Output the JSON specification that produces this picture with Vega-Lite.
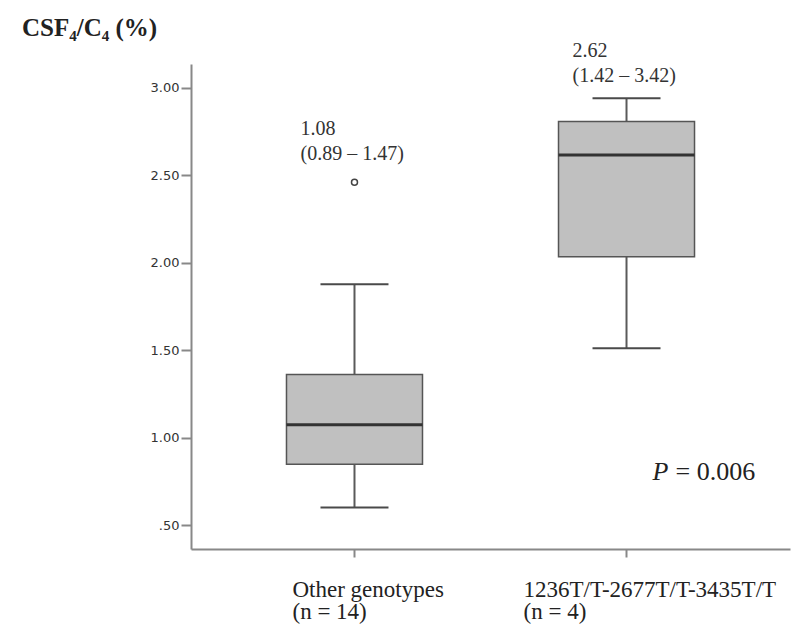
{
  "$schema": "https://vega.github.io/schema/vega-lite/v6.json",
  "width": 599,
  "height": 485,
  "autosize": "none",
  "padding": {"left": 191, "top": 64, "right": 3, "bottom": 75},
  "background": "white",
  "title": {"text": "CSF₄/C₄ (%)", "anchor": "start", "frame": "group", "dx": -169, "dy": 42, "font": "Liberation Serif", "fontSize": 25, "fontWeight": "bold", "color": "#222", "baseline": "alphabetic", "offset": 22},
  "datasets": {
    "boxes": [
      {"group": "Other genotypes", "lower": 0.60, "q1": 0.847, "median": 1.073, "q3": 1.361, "upper": 1.876},
      {"group": "1236T/T-2677T/T-3435T/T", "lower": 1.51, "q1": 2.034, "median": 2.615, "q3": 2.806, "upper": 2.939}
    ],
    "outliers": [
      {"group": "Other genotypes", "value": 2.459}
    ],
    "notes": [
      {"group": "Other genotypes", "text": "1.08\n(0.89 – 1.47)", "y": 2.73},
      {"group": "1236T/T-2677T/T-3435T/T", "text": "2.62\n(1.42 – 3.42)", "y": 3.177}
    ],
    "pvalue": [
      {"group": "1236T/T-2677T/T-3435T/T", "p": "P", "rest": "= 0.006", "y": 0.757}
    ]
  },
  "encoding": {
    "x": {
      "field": "group", "type": "nominal",
      "scale": {"type": "band", "domain": ["Other genotypes", "1236T/T-2677T/T-3435T/T"], "paddingInner": 0, "paddingOuter": 0.101},
      "axis": {
        "title": null,
        "labelAngle": 0,
        "labelExpr": "datum.value == 'Other genotypes' ? ['Other genotypes', '(n = 14)'] : ['1236T/T-2677T/T-3435T/T', '(n = 4)']",
        "labelAlign": "left",
        "labelOffset": {"condition": {"test": "datum.value == 'Other genotypes'", "value": -62}, "value": -103},
        "labelBaseline": "alphabetic",
        "labelPadding": 39,
        "labelLineHeight": 22,
        "labelFont": "Liberation Serif",
        "labelFontSize": 23,
        "labelColor": "#222",
        "labelLimit": 0,
        "tickSize": 8,
        "labelOverlap": false,
        "labelBound": false,
        "labelFlush": false
      }
    }
  },
  "layer": [
    {
      "data": {"name": "boxes"},
      "mark": {"type": "rule", "color": "#5a5a5a", "strokeWidth": 2},
      "encoding": {
        "y": {"field": "lower", "type": "quantitative", "title": null,
          "scale": {"domain": [0.363, 3.135], "nice": false, "zero": false},
          "axis": {
            "values": [0.5, 1, 1.5, 2, 2.5, 3],
            "labelExpr": "datum.value < 1 ? replace(format(datum.value, '.2f'), '0.', '.') : format(datum.value, '.2f')",
            "labelFont": "DejaVu Sans",
            "labelFontSize": 13,
            "labelColor": "#333",
            "tickSize": 10,
            "labelPadding": 2
          }
        },
        "y2": {"field": "q1"}
      }
    },
    {
      "data": {"name": "boxes"},
      "mark": {"type": "rule", "color": "#5a5a5a", "strokeWidth": 2},
      "encoding": {
        "y": {"field": "q3", "type": "quantitative", "title": null},
        "y2": {"field": "upper"}
      }
    },
    {
      "data": {"name": "boxes"},
      "mark": {"type": "bar", "fill": "#c0c0c0", "stroke": "#555555", "strokeWidth": 1.5, "width": {"band": 0.5}},
      "encoding": {
        "y": {"field": "q1", "type": "quantitative", "title": null},
        "y2": {"field": "q3"}
      }
    },
    {
      "data": {"name": "boxes"},
      "mark": {"type": "tick", "color": "#333333", "size": 136, "thickness": 3, "opacity": 1},
      "encoding": {
        "y": {"field": "median", "type": "quantitative", "title": null}
      }
    },
    {
      "data": {"name": "boxes"},
      "mark": {"type": "tick", "color": "#4a4a4a", "size": 68, "thickness": 2, "opacity": 1},
      "encoding": {
        "y": {"field": "lower", "type": "quantitative", "title": null}
      }
    },
    {
      "data": {"name": "boxes"},
      "mark": {"type": "tick", "color": "#4a4a4a", "size": 68, "thickness": 2, "opacity": 1},
      "encoding": {
        "y": {"field": "upper", "type": "quantitative", "title": null}
      }
    },
    {
      "data": {"name": "outliers"},
      "mark": {"type": "point", "shape": "circle", "filled": false, "fill": "white", "stroke": "#444", "strokeWidth": 1.5, "size": 36, "opacity": 1},
      "encoding": {
        "y": {"field": "value", "type": "quantitative", "title": null}
      }
    },
    {
      "data": {"name": "notes"},
      "mark": {"type": "text", "align": "left", "baseline": "alphabetic", "dx": -54, "lineBreak": "\n", "lineHeight": 25, "font": "Liberation Serif", "fontSize": 20, "color": "#333"},
      "encoding": {
        "y": {"field": "y", "type": "quantitative", "title": null},
        "text": {"field": "text", "type": "nominal"}
      }
    },
    {
      "data": {"name": "pvalue"},
      "mark": {"type": "text", "align": "left", "baseline": "alphabetic", "dx": 26, "font": "Liberation Serif", "fontSize": 26, "fontStyle": "italic", "color": "#222"},
      "encoding": {
        "y": {"field": "y", "type": "quantitative", "title": null},
        "text": {"field": "p", "type": "nominal"}
      }
    },
    {
      "data": {"name": "pvalue"},
      "mark": {"type": "text", "align": "left", "baseline": "alphabetic", "dx": 49, "font": "Liberation Serif", "fontSize": 26, "color": "#222"},
      "encoding": {
        "y": {"field": "y", "type": "quantitative", "title": null},
        "text": {"field": "rest", "type": "nominal"}
      }
    }
  ],
  "config": {
    "view": {"stroke": null},
    "axis": {"domainColor": "#888", "domainWidth": 2, "tickColor": "#888", "tickWidth": 2, "grid": false}
  }
}
